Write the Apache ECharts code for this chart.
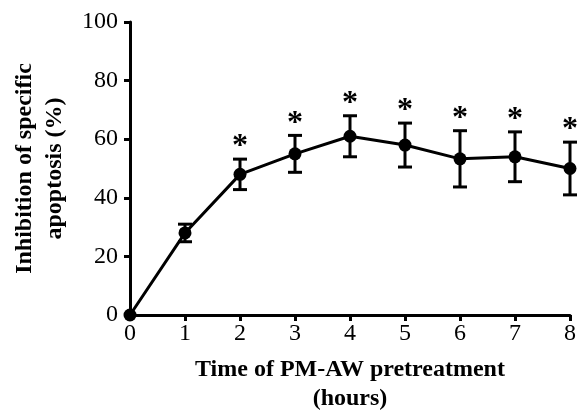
<!DOCTYPE html>
<html><head><meta charset="utf-8">
<script src="https://cdn.jsdelivr.net/npm/echarts@6/dist/echarts.min.js"></script>
<style>html,body{margin:0;padding:0;background:#fff}#c{width:578px;height:416px}</style>
</head><body><div id="c"></div>
<script>
const hours = [0, 1, 2, 3, 4, 5, 6, 7, 8];
const meanValues = [0, 28, 48, 55, 61, 58, 53.3, 54, 50];
const errValues = [0, 3, 5.2, 6.3, 7, 7.5, 9.6, 8.5, 9];
const significant = [false, false, true, true, true, true, true, true, true];
const xTitle = 'Time of PM-AW pretreatment\n(hours)';
const yTitle = 'Inhibition of specific\napoptosis (%)';

const chart = echarts.init(document.getElementById('c'));
const serif = '"Liberation Serif", "DejaVu Serif", serif';
const lineData = hours.map((h, i) => [h, meanValues[i]]);
const errData = hours.map((h, i) => [h, meanValues[i] - errValues[i], meanValues[i] + errValues[i], significant[i] ? 1 : 0]);

chart.setOption({
  animation: false,
  backgroundColor: '#fff',
  grid: { left: 130, right: 8, top: 22, bottom: 101, containLabel: false, outerBoundsMode: 'none' },
  xAxis: {
    type: 'value', min: 0, max: 8, interval: 1,
    name: xTitle, nameLocation: 'middle', nameGap: 40,
    nameTextStyle: { fontFamily: serif, fontWeight: 'bold', fontSize: 24, color: '#000', lineHeight: 29 },
    axisLine: { lineStyle: { color: '#000', width: 3 } },
    axisTick: { show: true, length: 6, lineStyle: { color: '#000', width: 3 } },
    axisLabel: { fontFamily: serif, fontSize: 24, color: '#000', margin: 7 },
    splitLine: { show: false }
  },
  yAxis: {
    type: 'value', min: 0, max: 100, interval: 20,
    name: yTitle, nameLocation: 'middle', nameGap: 60, nameRotate: 90,
    nameTextStyle: { fontFamily: serif, fontWeight: 'bold', fontSize: 24, color: '#000', lineHeight: 30 },
    axisLine: { show: true, lineStyle: { color: '#000', width: 3 } },
    axisTick: { show: true, length: 6, lineStyle: { color: '#000', width: 3 } },
    axisLabel: { fontFamily: serif, fontSize: 24, color: '#000', margin: 12 },
    splitLine: { show: false }
  },
  series: [
    {
      type: 'line', data: lineData, symbol: 'circle', symbolSize: 13,
      lineStyle: { color: '#000', width: 3 }, itemStyle: { color: '#000' }, z: 3
    },
    {
      type: 'custom', data: errData, z: 4,
      renderItem: function (params, api) {
        const x = api.value(0), lo = api.value(1), hi = api.value(2), sig = api.value(3);
        const pLo = api.coord([x, lo]), pHi = api.coord([x, hi]);
        const cap = 7;
        const st = { stroke: '#000', lineWidth: 3 };
        const children = [];
        if (hi > lo) {
          children.push({ type: 'line', shape: { x1: pLo[0], y1: pLo[1], x2: pHi[0], y2: pHi[1] }, style: st });
          children.push({ type: 'line', shape: { x1: pHi[0] - cap, y1: pHi[1], x2: pHi[0] + cap, y2: pHi[1] }, style: st });
          children.push({ type: 'line', shape: { x1: pLo[0] - cap, y1: pLo[1], x2: pLo[0] + cap, y2: pLo[1] }, style: st });
        }
        if (sig) {
          children.push({ type: 'text', style: { text: '*', x: pHi[0], y: pHi[1] + 4, align: 'center', verticalAlign: 'bottom', fill: '#000', font: 'bold 32px ' + serif } });
        }
        return { type: 'group', children: children };
      }
    }
  ]
});
</script></body></html>
